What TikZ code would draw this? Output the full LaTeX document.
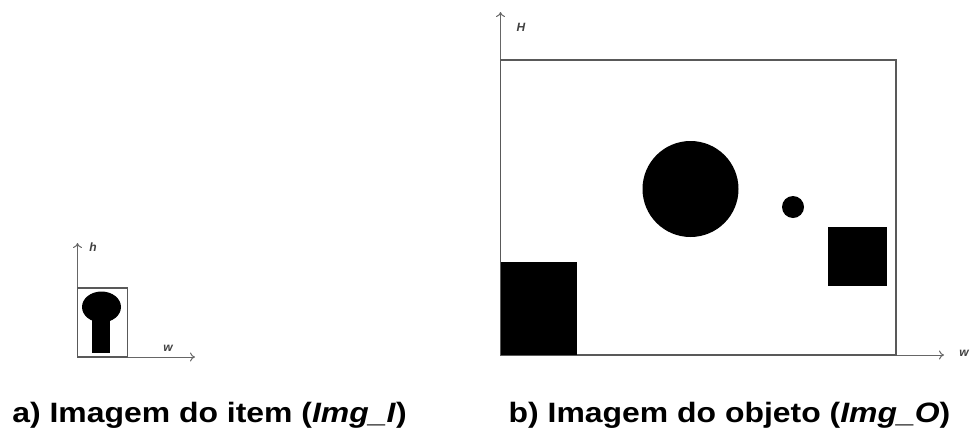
\documentclass[tikz,border=0pt]{standalone}
\usepackage{fontspec}
\setmainfont{Liberation Sans}
\usetikzlibrary{arrows.meta}
\begin{document}
\begin{tikzpicture}[x=1pt,y=-1pt,
  axis/.style={draw=black!60,line width=1pt,-{To[length=5pt,width=9pt]}},
  frame/.style={draw=black!65,line width=1.1pt},
  blob/.style={fill=black},
  axlabel/.style={font=\fontsize{12}{14}\selectfont\itshape\bfseries,text=black!75,inner sep=0pt},
  caption/.style={font=\fontsize{28}{32}\selectfont\bfseries,inner sep=0pt,anchor=base,xscale=1.14}]
\useasboundingbox (0,0) rectangle (972,429);
% --- a) item
\coordinate (ao) at (77.5,357);
\coordinate (ay) at (77.5,243);
\coordinate (ax) at (195,357);
\draw[axis] (ao) -- (ay);
\draw[axis] (ao) -- (ax);
\node[axlabel] (lh) at (93,247) {h};
\node[axlabel] (lw) at (168,348) {w};
\draw[frame] (77.5,288) rectangle (127.5,357);
\fill[blob] (91.5,312) rectangle (110,353);
\fill[blob] (101.5,307) ellipse [x radius=19.5, y radius=15.5];
% --- b) object
\coordinate (bo) at (500.5,355);
\coordinate (by) at (500.5,12);
\coordinate (bx) at (944,355);
\draw[axis] (bo) -- (by);
\draw[axis] (bo) -- (bx);
\node[axlabel] (lH) at (521,27) {H};
\node[axlabel] (lW) at (964,353) {w};
\draw[frame] (500.5,60) rectangle (896,355);
\fill[blob] (500.5,262) rectangle (577,355);
\fill[blob] (690.5,189) circle (48);
\fill[blob] (793,207) circle (11);
\fill[blob] (828,227) rectangle (887,286);
% captions
\node[caption] (ca) at (209.5,422) {a) Imagem do item (\textit{Img\_I})};
\node[caption] (cb) at (729.5,422) {b) Imagem do objeto (\textit{Img\_O})};
\end{tikzpicture}
\end{document}
